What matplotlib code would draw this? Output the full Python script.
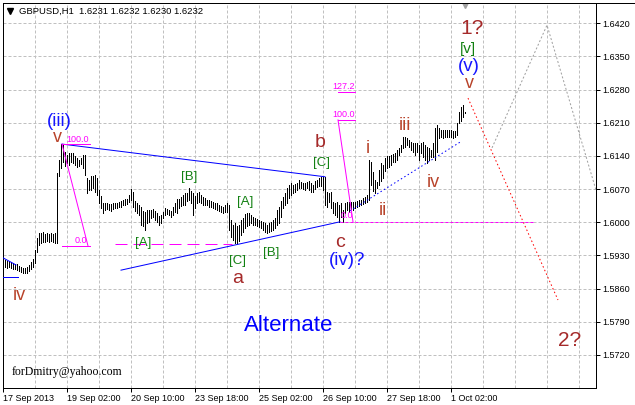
import numpy as np
import matplotlib
matplotlib.use("Agg")
import matplotlib.pyplot as plt
from matplotlib.lines import Line2D

# ---------------- data ----------------
highs = [1.5920, 1.5918, 1.5918, 1.5916, 1.5914, 1.5912, 1.5912, 1.5908, 1.5906, 1.5903,
         1.5903, 1.5906, 1.5910, 1.5916, 1.5922, 1.5941, 1.5967, 1.5977, 1.5977, 1.5979,
         1.5975, 1.5977, 1.5975, 1.5977, 1.5975, 1.5977, 1.6104, 1.6131, 1.6165, 1.6165,
         1.6148, 1.6142, 1.6146, 1.6146, 1.6146, 1.6140, 1.6136, 1.6131, 1.6136, 1.6142,
         1.6142, 1.6093, 1.6089, 1.6098, 1.6098, 1.6100, 1.6093, 1.6068, 1.6055, 1.6041,
         1.6041, 1.6041, 1.6039, 1.6039, 1.6041, 1.6041, 1.6041, 1.6043, 1.6045, 1.6047,
         1.6049, 1.6049, 1.6058, 1.6070, 1.6064, 1.6045, 1.6041, 1.6036, 1.6032, 1.6024,
         1.6022, 1.6026, 1.6026, 1.6026, 1.6028, 1.6024, 1.6020, 1.6013, 1.6015, 1.6022,
         1.6030, 1.6028, 1.6026, 1.6024, 1.6032, 1.6041, 1.6049, 1.6049, 1.6053, 1.6058,
         1.6062, 1.6062, 1.6072, 1.6066, 1.6062, 1.6055, 1.6062, 1.6064, 1.6058, 1.6053,
         1.6051, 1.6047, 1.6047, 1.6045, 1.6043, 1.6041, 1.6041, 1.6036, 1.6034, 1.6032,
         1.6036, 1.6041, 1.6036, 1.6005, 1.5994, 1.5998, 1.5992, 1.5994, 1.6005, 1.6009,
         1.6017, 1.6020, 1.6020, 1.6015, 1.6011, 1.6009, 1.6007, 1.6005, 1.6003, 1.6001,
         1.5998, 1.5994, 1.5998, 1.6001, 1.6005, 1.6009, 1.6026, 1.6032, 1.6045, 1.6053,
         1.6062, 1.6072, 1.6079, 1.6083, 1.6079, 1.6081, 1.6083, 1.6089, 1.6085, 1.6083,
         1.6083, 1.6085, 1.6087, 1.6083, 1.6079, 1.6087, 1.6089, 1.6093, 1.6095, 1.6095,
         1.6095, 1.6064, 1.6062, 1.6064, 1.6043, 1.6041, 1.6043, 1.6036, 1.6041, 1.6026,
         1.6041, 1.6043, 1.6043, 1.6043, 1.6043, 1.6043, 1.6045, 1.6047, 1.6047, 1.6051,
         1.6053, 1.6058, 1.6131, 1.6127, 1.6106, 1.6089, 1.6085, 1.6110, 1.6125, 1.6121,
         1.6136, 1.6140, 1.6140, 1.6142, 1.6144, 1.6146, 1.6153, 1.6157, 1.6163, 1.6180,
         1.6180, 1.6178, 1.6174, 1.6169, 1.6167, 1.6167, 1.6167, 1.6163, 1.6167, 1.6169,
         1.6163, 1.6159, 1.6157, 1.6153, 1.6167, 1.6199, 1.6205, 1.6199, 1.6195, 1.6195,
         1.6195, 1.6195, 1.6195, 1.6195, 1.6193, 1.6193, 1.6210, 1.6233, 1.6243, 1.6247,
         1.6232]

lows = [1.5906, 1.5903, 1.5906, 1.5903, 1.5901, 1.5901, 1.5899, 1.5897, 1.5895, 1.5893,
        1.5893, 1.5893, 1.5897, 1.5901, 1.5906, 1.5914, 1.5937, 1.5952, 1.5956, 1.5958,
        1.5958, 1.5960, 1.5958, 1.5960, 1.5958, 1.5956, 1.5956, 1.6098, 1.6115, 1.6127,
        1.6119, 1.6125, 1.6121, 1.6127, 1.6125, 1.6121, 1.6117, 1.6119, 1.6123, 1.6115,
        1.6100, 1.6062, 1.6068, 1.6068, 1.6072, 1.6064, 1.6058, 1.6041, 1.6030, 1.6020,
        1.6026, 1.6028, 1.6026, 1.6024, 1.6028, 1.6030, 1.6030, 1.6032, 1.6032, 1.6036,
        1.6036, 1.6039, 1.6043, 1.6047, 1.6032, 1.6024, 1.6020, 1.6015, 1.5994, 1.5992,
        1.5984, 1.5998, 1.6001, 1.6009, 1.6011, 1.6005, 1.6001, 1.5994, 1.5998, 1.6009,
        1.6015, 1.6017, 1.6015, 1.6011, 1.6015, 1.6022, 1.6020, 1.6030, 1.6034, 1.6036,
        1.6036, 1.6045, 1.6047, 1.6041, 1.6015, 1.6030, 1.6041, 1.6043, 1.6041, 1.6036,
        1.6036, 1.6036, 1.6032, 1.6032, 1.6030, 1.6028, 1.6026, 1.6024, 1.6022, 1.6020,
        1.6022, 1.6022, 1.5984, 1.5969, 1.5963, 1.5956, 1.5956, 1.5960, 1.5973, 1.5979,
        1.5988, 1.5992, 1.5994, 1.5998, 1.5994, 1.5994, 1.5992, 1.5990, 1.5988, 1.5984,
        1.5979, 1.5977, 1.5979, 1.5982, 1.5984, 1.5988, 1.5994, 1.5998, 1.6011, 1.6030,
        1.6036, 1.6041, 1.6051, 1.6058, 1.6062, 1.6064, 1.6068, 1.6072, 1.6072, 1.6070,
        1.6068, 1.6072, 1.6068, 1.6064, 1.6064, 1.6070, 1.6074, 1.6077, 1.6077, 1.6068,
        1.6036, 1.6032, 1.6043, 1.6030, 1.6020, 1.6015, 1.6011, 1.6001, 1.6011, 1.6001,
        1.6020, 1.6026, 1.6022, 1.6028, 1.6026, 1.6030, 1.6032, 1.6034, 1.6036, 1.6039,
        1.6041, 1.6043, 1.6047, 1.6079, 1.6066, 1.6062, 1.6072, 1.6079, 1.6087, 1.6093,
        1.6108, 1.6115, 1.6117, 1.6121, 1.6127, 1.6127, 1.6131, 1.6142, 1.6148, 1.6157,
        1.6159, 1.6163, 1.6159, 1.6153, 1.6148, 1.6142, 1.6148, 1.6131, 1.6146, 1.6138,
        1.6131, 1.6125, 1.6131, 1.6138, 1.6138, 1.6131, 1.6148, 1.6178, 1.6180, 1.6178,
        1.6180, 1.6180, 1.6180, 1.6180, 1.6178, 1.6180, 1.6184, 1.6210, 1.6214, 1.6222,
        1.6230]

price_ticks = [1.5720, 1.5790, 1.5860, 1.5930, 1.6000, 1.6070,
               1.6140, 1.6210, 1.6280, 1.6350, 1.6420]
date_bars = [-1, 31, 63, 95, 127, 159, 191, 223]
date_labels = ["17 Sep 2013", "19 Sep 02:00", "20 Sep 10:00", "23 Sep 18:00",
               "25 Sep 02:00", "26 Sep 10:00", "27 Sep 18:00", "1 Oct 02:00"]
symbol = "GBPUSD,H1"
last_ohlc = [1.6231, 1.6232, 1.6230, 1.6232]

# triangle / trend lines (bar index, price)
upper_line = ([28.5, 160.0], [1.6165, 1.6096])
lower_line = ([58.0, 167.5], [1.5899, 1.6001])
left_diag = ([-1.0, 5.5], [1.5925, 1.5910])
left_flat = ([-1.0, 6.5], [1.5885, 1.5885])
dotted_blue = ([172.5, 227.5], [1.6024, 1.6169])
red_path = ([231.5, 276.5], [1.6262, 1.5836])
gray_path = ([243.5, 271.0, 295.5], [1.6157, 1.6416, 1.6068])

# fibonacci objects
fib1_x = [28.5, 42.5]
fib1_levels = {"100.0": 1.6165, "0.0": 1.5950}
fib1_diag = ([28.5, 41.5], [1.6165, 1.5950])
fib2_x = [166.5, 175.0]
fib2_levels = {"127.2": 1.6275, "100.0": 1.6216}
fib2_diag = ([166.5, 174.0], [1.6216, 1.6001])
fib2_zero = ([167.5, 264.0], [1.6000, 1.6000])
long_dash = ([55.0, 113.5], [1.5954, 1.5954])

# wave labels: (text, bar, price(baseline), color, size)
BROWN = "#a52a2a"
RUST = "#b8432a"
GREEN = "#118011"
BLUE = "#1515ff"
labels = [
    ("(iii)", 27.25, 1.6203, BLUE, 13.5),
    ("v", 26.25, 1.6169, RUST, 13),
    ("iv", 7.25, 1.5836, RUST, 13),
    ("[B]", 92.25, 1.6089, GREEN, 9.5),
    ("[A]", 69.25, 1.5950, GREEN, 9.5),
    ("[A]", 120.25, 1.6036, GREEN, 9.5),
    ("[C]", 116.25, 1.5912, GREEN, 9.5),
    ("[B]", 133.0, 1.5929, GREEN, 9.5),
    ("a", 116.25, 1.5872, BROWN, 14),
    ("[C]", 158.25, 1.6119, GREEN, 9.5),
    ("b", 157.5, 1.6159, BROWN, 14),
    ("c", 167.25, 1.5948, BROWN, 14),
    ("(iv)?", 171.0, 1.5910, BLUE, 13.5),
    ("i", 181.25, 1.6146, RUST, 13),
    ("ii", 188.75, 1.6015, RUST, 13),
    ("iii", 200.0, 1.6195, RUST, 13),
    ("iv", 214.25, 1.6074, RUST, 13),
    ("v", 232.0, 1.6283, RUST, 13),
    ("(v)", 232.0, 1.6319, BLUE, 13.5),
    ("[v]", 231.25, 1.6357, GREEN, 11),
    ("1?", 233.75, 1.6397, BROWN, 15),
    ("2?", 282.25, 1.5739, BROWN, 15),
]

# ---------------- figure ----------------
W, H = 635, 405
PX = 72.0 / 100.0
fig = plt.figure(figsize=(W / 100, H / 100), dpi=100)
fig.patch.set_facecolor("white")
ax = fig.add_axes([3 / W, (H - 388) / H, (596 - 3) / W, (388 - 3) / H])
ax.set_xlim(-1, 295.5)
ax.set_ylim(1.565032, 1.646267)

# grid
for gx in np.arange(15, 296, 16):
    ax.axvline(gx, color="#c0c0c0", lw=PX, ls=(0, (3, 2)), zorder=0)
for gy in price_ticks:
    ax.axhline(gy, color="#c0c0c0", lw=PX, ls=(0, (3, 2)), zorder=0)

# bars
idx = np.arange(len(highs))
ax.vlines(idx, lows, highs, color="black", lw=PX, antialiased=False, zorder=3)

# trend lines
ax.plot(*upper_line, color="blue", lw=PX, zorder=4)
ax.plot(*lower_line, color="blue", lw=PX, zorder=4)
ax.plot(*left_diag, color="blue", lw=PX, zorder=4)
ax.plot(*left_flat, color="blue", lw=PX, zorder=4)
ax.plot(*dotted_blue, color="blue", lw=PX, ls=(0, (1.5, 2.5)), zorder=4)
ax.plot(*red_path, color="red", lw=PX, ls=(0, (1.5, 2.5)), zorder=4)
ax.plot(*gray_path, color="#a0a0a0", lw=PX, ls=(0, (2, 2)), zorder=2)

# fibonacci
MAG = "#ff00ff"
for name, lvl in fib1_levels.items():
    ax.plot(fib1_x, [lvl, lvl], color=MAG, lw=PX, zorder=4)
ax.plot(*fib1_diag, color=MAG, lw=PX, zorder=4)
for name, lvl in fib2_levels.items():
    ax.plot(fib2_x, [lvl, lvl], color=MAG, lw=PX, zorder=4)
ax.plot(*fib2_diag, color=MAG, lw=PX, zorder=4)
ax.plot(*fib2_zero, color=MAG, lw=PX, ls=(0, (3, 2)), zorder=4)
ax.plot(*long_dash, color=MAG, lw=PX, ls=(0, (12, 6)), zorder=4)

fk = dict(color=MAG, fontsize=6.5, family="Liberation Sans", va="baseline", zorder=5)
ax.text(30.5, 1.6169, "100.0", ha="left", **fk)
ax.text(41.0, 1.5956, "0.0", ha="right", **fk)
ax.text(163.5, 1.6281, "127.2", ha="left", **fk)
ax.text(163.5, 1.6222, "100.0", ha="left", **fk)
ax.text(174.0, 1.6009, "0.0", ha="right", **fk)

# wave labels
for txt, bx, py, col, sz in labels:
    ax.text(bx, py, txt, color=col, fontsize=sz, family="Liberation Sans",
            ha="center", va="baseline", zorder=6)

ax.text(142.0, 1.5771, "Alternate", color="blue", fontsize=16,
        family="Liberation Sans", ha="center", va="baseline", zorder=6)
ax.text(3.5, 1.5678, "forDmitry@yahoo.com", color="black", fontsize=8.5,
        family="Liberation Serif", ha="left", va="baseline", zorder=6)

# title
title = symbol + "  " + " ".join(f"{v:.4f}" for v in last_ohlc)
ax.text(7.0, 1.6439, title, color="black", fontsize=6.8, family="Liberation Sans",
        ha="left", va="baseline", zorder=6)
ax.plot([2.5], [1.6446], marker="v", ms=4.5, color="black", zorder=6, clip_on=False)
ax.plot([230.0], [1.6458], marker="v", ms=5, color="#a0a0a0", mec="#a0a0a0", zorder=6)

# axes styling
for s in ax.spines.values():
    s.set_linewidth(PX)
    s.set_color("black")
ax.yaxis.tick_right()
ax.set_yticks(price_ticks)
ax.set_yticklabels([f"{p:.4f}" for p in price_ticks])
ax.set_xticks(date_bars)
ax.set_xticklabels(date_labels)
for lab in ax.get_xticklabels():
    lab.set_horizontalalignment("left")
ax.tick_params(axis="y", direction="out", length=4 * PX, width=PX, pad=2,
               labelsize=6.5, colors="black")
ax.tick_params(axis="x", direction="out", length=4 * PX, width=PX, pad=1.5,
               labelsize=6.5, colors="black")
for lab in ax.get_xticklabels() + ax.get_yticklabels():
    lab.set_family("Liberation Sans")

fig.add_artist(Line2D([3 / W, 1.0], [1 - 3 / H, 1 - 3 / H], color="black", lw=PX))

fig.savefig("out.png", dpi=100, facecolor="white")
